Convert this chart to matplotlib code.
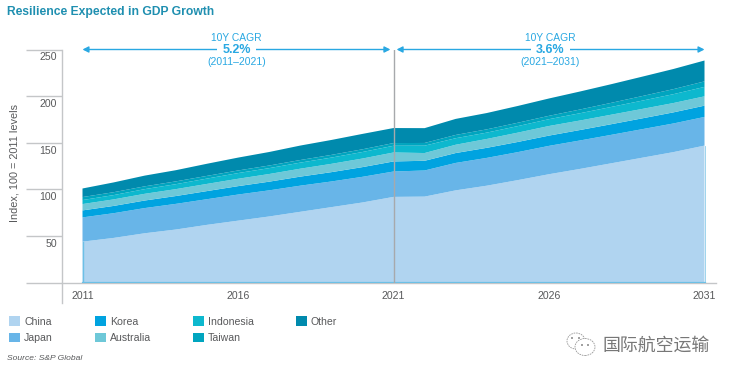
import matplotlib
matplotlib.use('Agg')
import matplotlib.pyplot as plt
from matplotlib.patches import Ellipse

plt.rcParams['font.family'] = ['Liberation Sans', 'DejaVu Sans']

years = list(range(2011, 2032))
china = [44, 48, 53, 57, 62, 66.5, 71, 76, 81, 86, 92, 92.3, 99, 104, 110, 116.3, 122, 128, 134, 140, 147]
japan = [26, 26.5, 27, 27.5, 27.5, 28, 28, 28, 27.5, 27.5, 27.2, 28, 29.4, 29.8, 30, 30.4, 30.5, 30.5, 30.6, 30.7, 30.7]
korea = [7.5, 7.8, 8.1, 8.4, 8.7, 9, 9.3, 9.7, 10, 10.4, 10.8, 10.4, 10.6, 10.8, 10.9, 11, 11.2, 11.4, 11.6, 11.9, 12.1]
australia = [6.8, 7, 7.2, 7.4, 7.7, 7.9, 8.2, 8.5, 8.9, 9.2, 9.6, 8.3, 8.9, 9.5, 10, 10.3, 10.2, 10.2, 10.1, 10, 10]
indonesia = [4.3, 4.6, 5, 5.3, 5.7, 6.1, 6.3, 6.5, 6.7, 7, 7.2, 7.9, 7, 6.8, 7, 7.3, 7.8, 8.3, 8.9, 9.5, 10.1]
taiwan = [3.2, 3.1, 3, 3, 2.9, 2.8, 2.8, 2.8, 2.9, 2.9, 2.9, 2.9, 3.5, 3.5, 3.6, 3.6, 4, 4.4, 4.9, 5.4, 5.9]
other = [9.2, 10.5, 11.5, 12, 13, 13.8, 14.5, 15.5, 16, 16.5, 16.1, 15.9, 17.2, 17.5, 18, 18.6, 19.3, 20, 20.8, 21.6, 22.4]

series = [china, japan, korea, australia, indonesia, taiwan, other]
labels = ['China', 'Japan', 'Korea', 'Australia', 'Indonesia', 'Taiwan', 'Other']
colors = ['#b0d4f0', '#68b5e8', '#00a3e0', '#6ec8d8', '#0db8ce', '#00a5bf', '#008aad']
yticks = [50, 100, 150, 200, 250]
xticks = [2011, 2016, 2021, 2026, 2031]

grey = '#c4c6c8'
txt = '#58595b'
blue = '#29a8e2'

fig = plt.figure(figsize=(7.32, 3.77), dpi=100)
ax = fig.add_axes([62 / 732, 1 - 282.7 / 377, 654 / 732, 233.2 / 377])
stacks = ax.stackplot(years, series, colors=colors, labels=labels, linewidth=0)

ax.set_xlim(2011 - 20.5 / 31.1, 2031 + 11.5 / 31.1)
ax.set_ylim(0, 250)

# thin border round the china area, left and bottom
ax.plot([2011, 2011], [0, china[0]], color='#6cc0e6', lw=1)
ax.plot([2011, 2031], [0, 0], color='#6cc0e6', lw=1.6, zorder=3)
ax.plot([2031, 2031], [0, china[-1]], color='#8fcdea', lw=0.6)
ax.axvline(2021, color='#a7a9ac', lw=1, zorder=4)

for s in ['top', 'right']:
    ax.spines[s].set_visible(False)
ax.spines['left'].set_color(grey)
ax.spines['bottom'].set_color(grey)
ax.spines['left'].set_linewidth(1)
ax.spines['bottom'].set_linewidth(1)
ax.spines['left'].set_bounds(-22, 250)
ax.spines['left'].set_clip_on(False)

ax.set_yticks([0] + yticks)
ax.set_yticklabels([])
ax.tick_params(axis='y', length=26, width=1, color=grey)
ax.set_xticks(xticks)
ax.tick_params(axis='x', length=0, pad=6, labelsize=7.6, labelcolor=txt)
for v in yticks:
    ax.annotate(str(v), (0, v), xycoords=ax.get_yaxis_transform(), xytext=(-3.6, -2),
                textcoords='offset points', ha='right', va='top', fontsize=7.6, color=txt)

fig.text(15 / 732, 1 - 163 / 377, 'Index, 100 = 2011 levels', rotation=90, ha='center', va='center',
         fontsize=7.8, color=txt)
fig.text(7 / 732, 1 - 12 / 377, 'Resilience Expected in GDP Growth', fontsize=8.7, fontweight='bold',
         color='#1f8fb0', ha='left', va='center')
fig.text(7 / 732, 1 - 359 / 377, 'Source: S&P Global', fontsize=6.1, style='italic', color=txt,
         ha='left', va='center')

# CAGR arrows
for a, b, pct, period in [(2011, 2020.9, '5.2%', '(2011\u20132021)'), (2021.1, 2031, '3.6%', '(2021\u20132031)')]:
    ax.annotate('', xy=(b, 250), xytext=(a, 250), annotation_clip=False,
                arrowprops=dict(arrowstyle='<|-|>,head_length=0.35,head_width=0.18', color=blue, lw=1, shrinkA=0, shrinkB=0))
    mid = (a + b) / 2
    ax.annotate(pct, (mid, 250), xytext=(0, -0.7), textcoords='offset points', fontsize=9, fontweight='bold',
                color=blue, ha='center', va='center', annotation_clip=False,
                bbox=dict(fc='white', ec='none', pad=3.5))
    ax.annotate('10Y CAGR', (mid, 250), xytext=(0, 8.6), textcoords='offset points', fontsize=7.4, color=blue,
                ha='center', va='center', annotation_clip=False)
    ax.annotate(period, (mid, 250), xytext=(0, -9), textcoords='offset points', fontsize=7.5, color=blue,
                ha='center', va='center', annotation_clip=False)

fig.legend(stacks, labels, ncol=4, frameon=False, loc='upper left', bbox_to_anchor=(1 / 732, 1 - 308 / 377),
           fontsize=7.6, labelcolor=txt, handlelength=1, handleheight=1, handletextpad=0.4,
           columnspacing=4.0, labelspacing=0.55, borderpad=0.3)

# watermark
fig.text(602 / 732, 1 - 345.5 / 377, '国际航空运输', fontsize=12.9, color='#777777', ha='left', va='center',
         family=['Noto Sans CJK SC', 'DejaVu Sans'])
fig.add_artist(Ellipse((576, 377 - 341), 18, 16, transform=None, fc='white', ec='#999999', lw=0.6, ls=(0, (2, 1))))
fig.add_artist(Ellipse((585, 377 - 347), 20, 17, transform=None, fc='white', ec='#999999', lw=0.6, ls=(0, (2, 1))))
for ex, ey in [(572, 338), (579, 338), (582, 345), (588, 345)]:
    fig.add_artist(Ellipse((ex, 377 - ey), 2, 2, transform=None, fc='#888888', ec='none'))

fig.savefig('out.png', dpi=100)
